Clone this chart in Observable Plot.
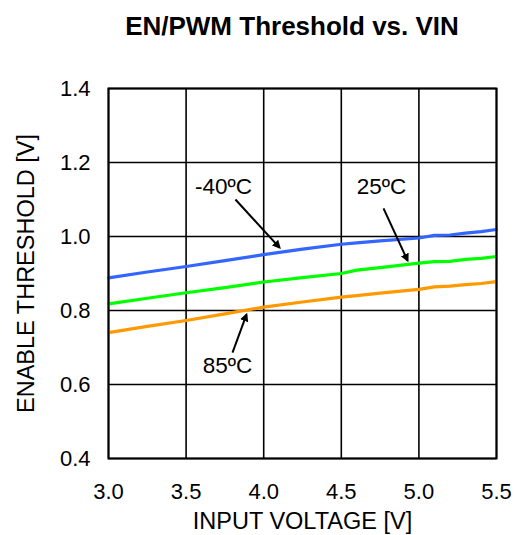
<!DOCTYPE html>
<html><head><meta charset="utf-8">
<script src="https://cdn.jsdelivr.net/npm/d3@7"></script>
<script src="https://cdn.jsdelivr.net/npm/@observablehq/plot@0.6"></script>
<style>
body{margin:0;background:#fff;font-family:"Liberation Sans",Arial,sans-serif;}
#title{box-sizing:border-box;width:523px;height:50px;padding-top:13px;padding-left:61px;text-align:center;font-weight:bold;font-size:26px;line-height:26px;color:#000;}
</style></head><body>
<div id="title">EN/PWM Threshold vs. VIN</div>
<div id="chart"></div>
<script>
// Input voltage (V)
const vin = [3.0, 3.25, 3.5, 3.75, 4.0, 4.25, 4.5, 4.6, 4.75, 5.0, 5.1, 5.2, 5.3, 5.4, 5.5];
// Enable threshold (V) per temperature
const thrM40 = [0.888, 0.904, 0.919, 0.935, 0.951, 0.966, 0.979, 0.983, 0.988, 0.996, 1.003, 1.004, 1.009, 1.013, 1.019];
const thr25  = [0.818, 0.833, 0.848, 0.862, 0.877, 0.889, 0.900, 0.909, 0.916, 0.928, 0.932, 0.933, 0.938, 0.941, 0.946];
const thr85  = [0.740, 0.757, 0.773, 0.791, 0.809, 0.823, 0.836, 0.840, 0.847, 0.857, 0.864, 0.866, 0.870, 0.873, 0.878];
const seriesNames = ["-40ºC", "25ºC", "85ºC"];
const seriesColors = ["#3366ff", "#00ff00", "#ff9900"];

// Annotations
const annLabels = ["-40ºC", "25ºC", "85ºC"];
const annX = [3.741, 4.759, 3.767];
const annY = [1.116, 1.116, 0.630];
const arrX1 = [3.818, 4.772, 3.799];
const arrY1 = [1.100, 1.076, 0.686];
const arrX2 = [4.102, 4.927, 3.889];
const arrY2 = [0.970, 0.935, 0.789];

const xTicks = [3.0, 3.5, 4.0, 4.5, 5.0, 5.5];
const yTicks = [0.4, 0.6, 0.8, 1.0, 1.2, 1.4];

const allSeries = [thrM40, thr25, thr85];
const rows = [];
allSeries.forEach((vals, s) => vin.forEach((v, i) => rows.push({vin: v, thr: vals[i], series: seriesNames[s]})));
const anns = annLabels.map((t, i) => ({t, x: annX[i], y: annY[i], x1: arrX1[i], y1: arrY1[i], x2: arrX2[i], y2: arrY2[i]}));

const chart = Plot.plot({
  width: 523,
  height: 485,
  marginTop: 38,
  marginBottom: 77,
  marginLeft: 108,
  marginRight: 27,
  style: {fontFamily: '"Liberation Sans", Arial, sans-serif', fontSize: "22px", color: "#000", background: "#fff"},
  x: {domain: [3.0, 5.5], ticks: xTicks, tickFormat: d3.format(".1f"), label: "INPUT VOLTAGE [V]"},
  y: {domain: [0.4, 1.4], ticks: yTicks, tickFormat: d3.format(".1f"), label: "ENABLE THRESHOLD [V]"},
  color: {domain: seriesNames, range: seriesColors},
  marks: [
    Plot.gridX(xTicks, {stroke: "#000", strokeOpacity: 1, strokeWidth: 1.6}),
    Plot.gridY(yTicks, {stroke: "#000", strokeOpacity: 1, strokeWidth: 1.6}),
    Plot.line(rows, {x: "vin", y: "thr", z: "series", stroke: "series", strokeWidth: 3.2}),
    Plot.frame({stroke: "#000", strokeWidth: 2}),
    Plot.axisX({ticks: xTicks, tickSize: 0, tickPadding: 25, tickFormat: d3.format(".1f"), label: null, fontSize: 22}),
    Plot.axisX({ticks: [], tickSize: 0, label: "INPUT VOLTAGE [V]", labelAnchor: "center", labelArrow: false, labelOffset: 70, fontSize: 23.5}),
    Plot.axisY({ticks: yTicks, tickSize: 0, tickPadding: 18, tickFormat: d3.format(".1f"), label: null, fontSize: 22}),
    Plot.axisY({ticks: [], tickSize: 0, label: "ENABLE THRESHOLD [V]", labelAnchor: "center", labelArrow: false, labelOffset: 91, fontSize: 23.5}),
    Plot.link(anns, {x1: "x1", y1: "y1", x2: "x2", y2: "y2", stroke: "#000", strokeWidth: 2, markerEnd: "arrow"}),
    Plot.text(anns, {x: "x", y: "y", text: "t", fontSize: 22.5, textAnchor: "middle", lineAnchor: "bottom", fill: "#000"})
  ]
});
// filled arrowheads
chart.querySelectorAll("marker").forEach(m => {
  m.setAttribute("fill", "#000");
  m.setAttribute("stroke", "none");
  const p = m.querySelector("path");
  if (p) p.setAttribute("d", "M-5,-3.2L1.5,0L-5,3.2Z");
});
document.getElementById("chart").appendChild(chart);
</script>
</body></html>
